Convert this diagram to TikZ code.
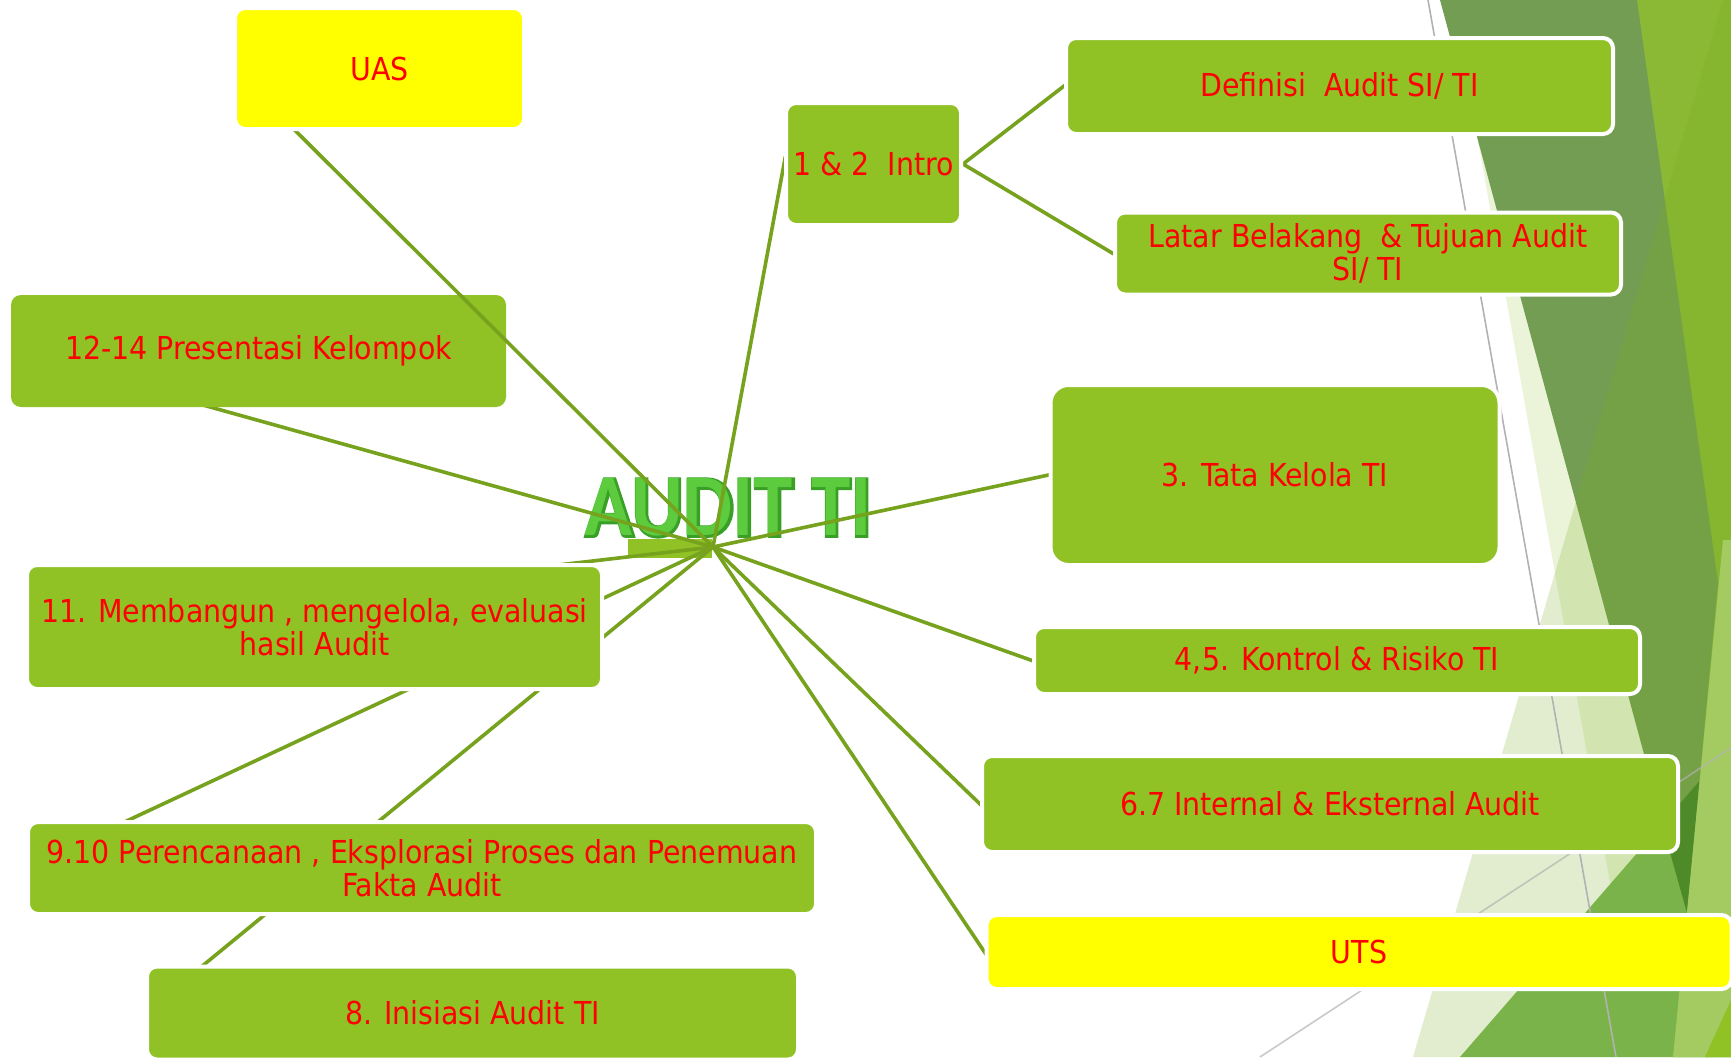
\documentclass[tikz,border=0pt]{standalone}
\usepackage{fontspec}
\setmainfont{DejaVu Sans Condensed}
\newfontfamily\titlefont{Carlito}
\newfontfamily\titleedgefont{Carlito}[BoldFeatures={FakeBold=4}]
\definecolor{boxgreen}{HTML}{90C226}
\definecolor{linegreen}{HTML}{76A21E}
\definecolor{rstrip}{HTML}{8AB83A}
\definecolor{darkfacet}{HTML}{739D52}
\definecolor{tintA}{HTML}{78AE1E}
\definecolor{medfacet}{HTML}{7AB34A}
\definecolor{deepfacet}{HTML}{4F8A28}
\definecolor{lightfacet}{HTML}{A3CB62}
\definecolor{titlegreen}{HTML}{5CCB3E}
\definecolor{titleedge}{HTML}{3A9F27}
\definecolor{txtred}{HTML}{FF0000}
\definecolor{uyellow}{HTML}{FFFF00}
\pgfdeclarelayer{bg}
\pgfdeclarelayer{lines}
\pgfdeclarelayer{over}
\pgfdeclarelayer{upper}
\pgfsetlayers{bg,lines,main,over,upper}
\begin{document}
\begin{tikzpicture}[x=0.5pt,y=-0.5pt,
  box/.style={draw=white, line width=2pt, fill=boxgreen, rounded corners=5pt,
    text=txtred, align=center, inner sep=0pt,
    font=\fontsize{15.8}{16.6}\selectfont},
  ybox/.style={box, fill=uyellow},
  conn/.style={draw=linegreen, line width=1.8pt},
  inconn/.style={conn, shorten >=-4pt},
  backconn/.style={conn, shorten >=4pt},
  ttl/.style={font=\titlefont\bfseries\fontsize{44}{44}\selectfont, xscale=0.9, inner sep=0pt},
  ttledge/.style={font=\titleedgefont\bfseries\fontsize{44}{44}\selectfont, xscale=0.9, inner sep=0pt}
]
\useasboundingbox (0,0) rectangle (1731,1057);
\clip (0,0) rectangle (1731,1057);

% boxes
\begin{pgfonlayer}{upper}
\node[ybox, minimum width=144.5pt, minimum height=60.5pt] (uas) at (379.5,68.5) {UAS};
\end{pgfonlayer}
\node[box, minimum width=87.5pt, minimum height=61pt] (intro) at (873.5,164) {1 \& 2\ \ Intro};
\node[box, minimum width=273.5pt, minimum height=48pt] (def) at (1339.5,86) {Definisi\ \ Audit SI/ TI};
\node[box, minimum width=253pt, minimum height=41pt] (latar) at (1368,253.5) {Latar Belakang\ \ \& Tujuan Audit\\SI/ TI};
\node[box, rounded corners=9pt, minimum width=224.5pt, minimum height=90pt] (tata) at (1275,475) {3. Tata Kelola TI};
\node[box, minimum width=303pt, minimum height=33.5pt] (kontrol) at (1337,660.5) {4,5. Kontrol \& Risiko TI};
\node[box, minimum width=348pt, minimum height=48pt] (inteks) at (1330,804) {6.7 Internal \& Eksternal Audit};
\node[ybox, minimum width=372.5pt, minimum height=37pt] (uts) at (1359,952) {UTS};
\node[box, draw=none, minimum width=247.5pt, minimum height=56pt] (pres) at (258.5,351) {12-14 Presentasi Kelompok};
\node[box, minimum width=287.5pt, minimum height=62pt] (memb) at (314.5,627) {11. Membangun , mengelola, evaluasi\\hasil Audit};
\node[box, minimum width=394pt, minimum height=46pt] (renc) at (422,868) {9.10 Perencanaan , Eksplorasi Proses dan Penemuan\\Fakta Audit};
\node[box, minimum width=325.5pt, minimum height=46.5pt] (inis) at (472.5,1013) {8. Inisiasi Audit TI};

\coordinate (hub) at (713,547);

\begin{pgfonlayer}{bg}
  % facet background
  \fill[rstrip] (1637,0) -- (1731,0) -- (1731,1057) -- (1673,1057) -- cycle;
  \fill[boxgreen, opacity=0.18] (1453,0) -- (1641,1057) -- (1731,1057) -- (1731,0) -- cycle;
  \fill[darkfacet] (1440,0) -- (1637,0) -- (1718,583) -- (1687,913) -- cycle;
  \fill[tintA, opacity=0.22] (1723,0) -- (1413,1057) -- (1731,1057) -- (1731,0) -- cycle;
  \fill[medfacet] (1460,1057) -- (1731,745) -- (1731,1057) -- cycle;
  \fill[deepfacet] (1662,824) -- (1699.5,781) -- (1687,913) -- cycle;
  \fill[lightfacet] (1723,540) -- (1731,540) -- (1731,1057) -- (1673,1057) -- cycle;
  \fill[boxgreen] (1731,1000) -- (1731,1057) -- (1705,1057) -- cycle;
  \draw[black!30, line width=0.8pt] (1428,0) -- (1616,1057);
  \draw[black!30, line width=0.8pt, opacity=0.7] (1260,1057) -- (1731,748);
  % title
  \node[ttledge, text=titleedge] (titleedge) at (729,508) {AUDIT TI};
  \node[ttl, text=titlegreen] (title) at (728,507) {AUDIT TI};
  \fill[boxgreen] (628,539) rectangle (712,558);
\end{pgfonlayer}

\begin{pgfonlayer}{over}
  \draw[backconn] (hub) -- (uas.west);
\end{pgfonlayer}

\begin{pgfonlayer}{lines}
  \draw[inconn] (hub) -- (intro.west);
  \draw[inconn, shorten <=-4pt] (intro.east) -- (def.west);
  \draw[inconn, shorten <=-4pt] (intro.east) -- (latar.west);
  \draw[inconn] (hub) -- (tata.west);
  \draw[inconn] (hub) -- (kontrol.west);
  \draw[inconn] (hub) -- (inteks.west);
  \draw[inconn] (hub) -- (uts.west);
  \draw[backconn] (hub) -- (pres.west);
  \draw[backconn] (hub) -- (memb.west);
  \draw[backconn] (hub) -- (renc.west);
  \draw[backconn] (hub) -- (inis.west);
\end{pgfonlayer}
\end{tikzpicture}
\end{document}
